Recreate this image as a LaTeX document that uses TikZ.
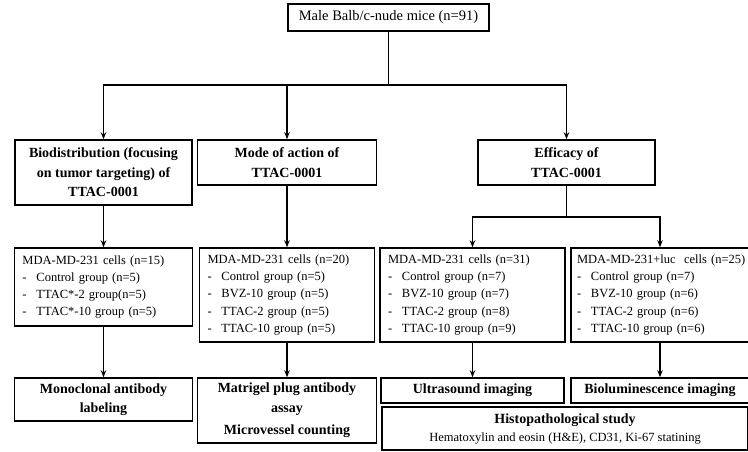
\documentclass[tikz,border=0pt]{standalone}
\usepackage{fontspec}
\setmainfont{Liberation Serif}
\usepackage{tikz}
\usetikzlibrary{arrows.meta}

\tikzset{
  box/.style={draw, line width=1.5pt, inner sep=0pt, align=center},
  head/.style={box, font=\fontsize{14}{19.5}\selectfont\bfseries},
  list/.style={box, align=left, inner xsep=8pt, font=\fontsize{12.5}{17.3}\selectfont},
  link/.style={line width=1.1pt, ->}
}
\newcommand{\grp}[1]{\makebox[14pt][l]{-}#1}

\begin{document}
\begin{tikzpicture}[x=1pt, y=-1pt, >={Stealth[length=7pt,width=5.5pt]}]
\useasboundingbox (0,0) rectangle (748,451);

% Top
\node[box, font=\fontsize{14.5}{17}\selectfont, minimum width=201pt, minimum height=27pt] (mice) at (388.5,17.5) {Male Balb/c-nude mice (n=91)};

% Studies
\node[head, minimum width=177pt, minimum height=65pt] (bio) at (103.5,172.5) {Biodistribution (focusing\\ on tumor targeting) of\\ TTAC-0001};
\node[head, minimum width=179pt, minimum height=45pt] (mode) at (287,162.5) {Mode of action of\\ TTAC-0001};
\node[head, minimum width=177pt, minimum height=45pt] (eff) at (566.5,162.5) {Efficacy of\\ TTAC-0001};

% Groups
\node[list, text width=162pt, minimum height=78pt] (cellsA) at (103.5,287) {MDA-MD-231 cells (n=15)\\ \grp{Control group (n=5)}\\ \grp{TTAC*-2 group(n=5)}\\ \grp{TTAC*-10 group (n=5)}};
\node[list, text width=159pt, minimum height=94pt] (cellsB) at (287,295) {MDA-MD-231 cells (n=20)\\ \grp{Control group (n=5)}\\ \grp{BVZ-10 group (n=5)}\\ \grp{TTAC-2 group (n=5)}\\ \grp{TTAC-10 group (n=5)}};
\node[list, text width=169pt, minimum height=94pt] (cellsC) at (472.5,295) {MDA-MD-231 cells (n=31)\\ \grp{Control group (n=7)}\\ \grp{BVZ-10 group (n=7)}\\ \grp{TTAC-2 group (n=8)}\\ \grp{TTAC-10 group (n=9)}};
\node[list, inner xsep=6pt, text width=166pt, minimum height=94pt] (cellsD) at (660,295) {\mbox{MDA-MD-231+luc\ \ cells (n=25)}\\ \grp{Control group (n=7)}\\ \grp{BVZ-10 group (n=6)}\\ \grp{TTAC-2 group (n=6)}\\ \grp{TTAC-10 group (n=6)}};

% Methods
\node[head, minimum width=178pt, minimum height=43pt] (mab) at (103.5,399.5) {Monoclonal antibody\\ labeling};
\node[head, minimum width=179pt, minimum height=65pt] (plug) at (287,410.5) {Matrigel plug antibody\\ assay\\[3pt] Microvessel counting};
\node[head, minimum width=183pt, minimum height=25pt] (us) at (472.5,390.5) {Ultrasound imaging};
\node[head, minimum width=178pt, minimum height=25pt] (bli) at (660,390.5) {Bioluminescence imaging};
\node[box, font=\fontsize{12.5}{18}\selectfont, minimum width=366pt, minimum height=43pt] (histo) at (565,428.5) {{\bfseries\fontsize{14}{18}\selectfont Histopathological study}\\ Hematoxylin and eosin (H\&E), CD31, Ki-67 statining};

% Connectors
\coordinate (split) at (388.5,85);
\draw[line width=1.1pt] (mice) -- (split);
\draw[link] (split) -| (bio);
\draw[link] (split) -| (mode);
\draw[link] (split) -| (eff);

\coordinate (split2) at (566.5,217);
\draw[line width=1.1pt] (eff) -- (split2);
\draw[link] (split2) -| (cellsC);
\draw[link] (split2) -| (cellsD);

\draw[link] (bio) -- (cellsA);
\draw[link] (mode) -- (cellsB);
\draw[link] (cellsA) -- (mab);
\draw[link] (cellsB) -- (plug);
\draw[link] (cellsC) -- (us);
\draw[link] (cellsD) -- (bli);

\end{tikzpicture}
\end{document}
